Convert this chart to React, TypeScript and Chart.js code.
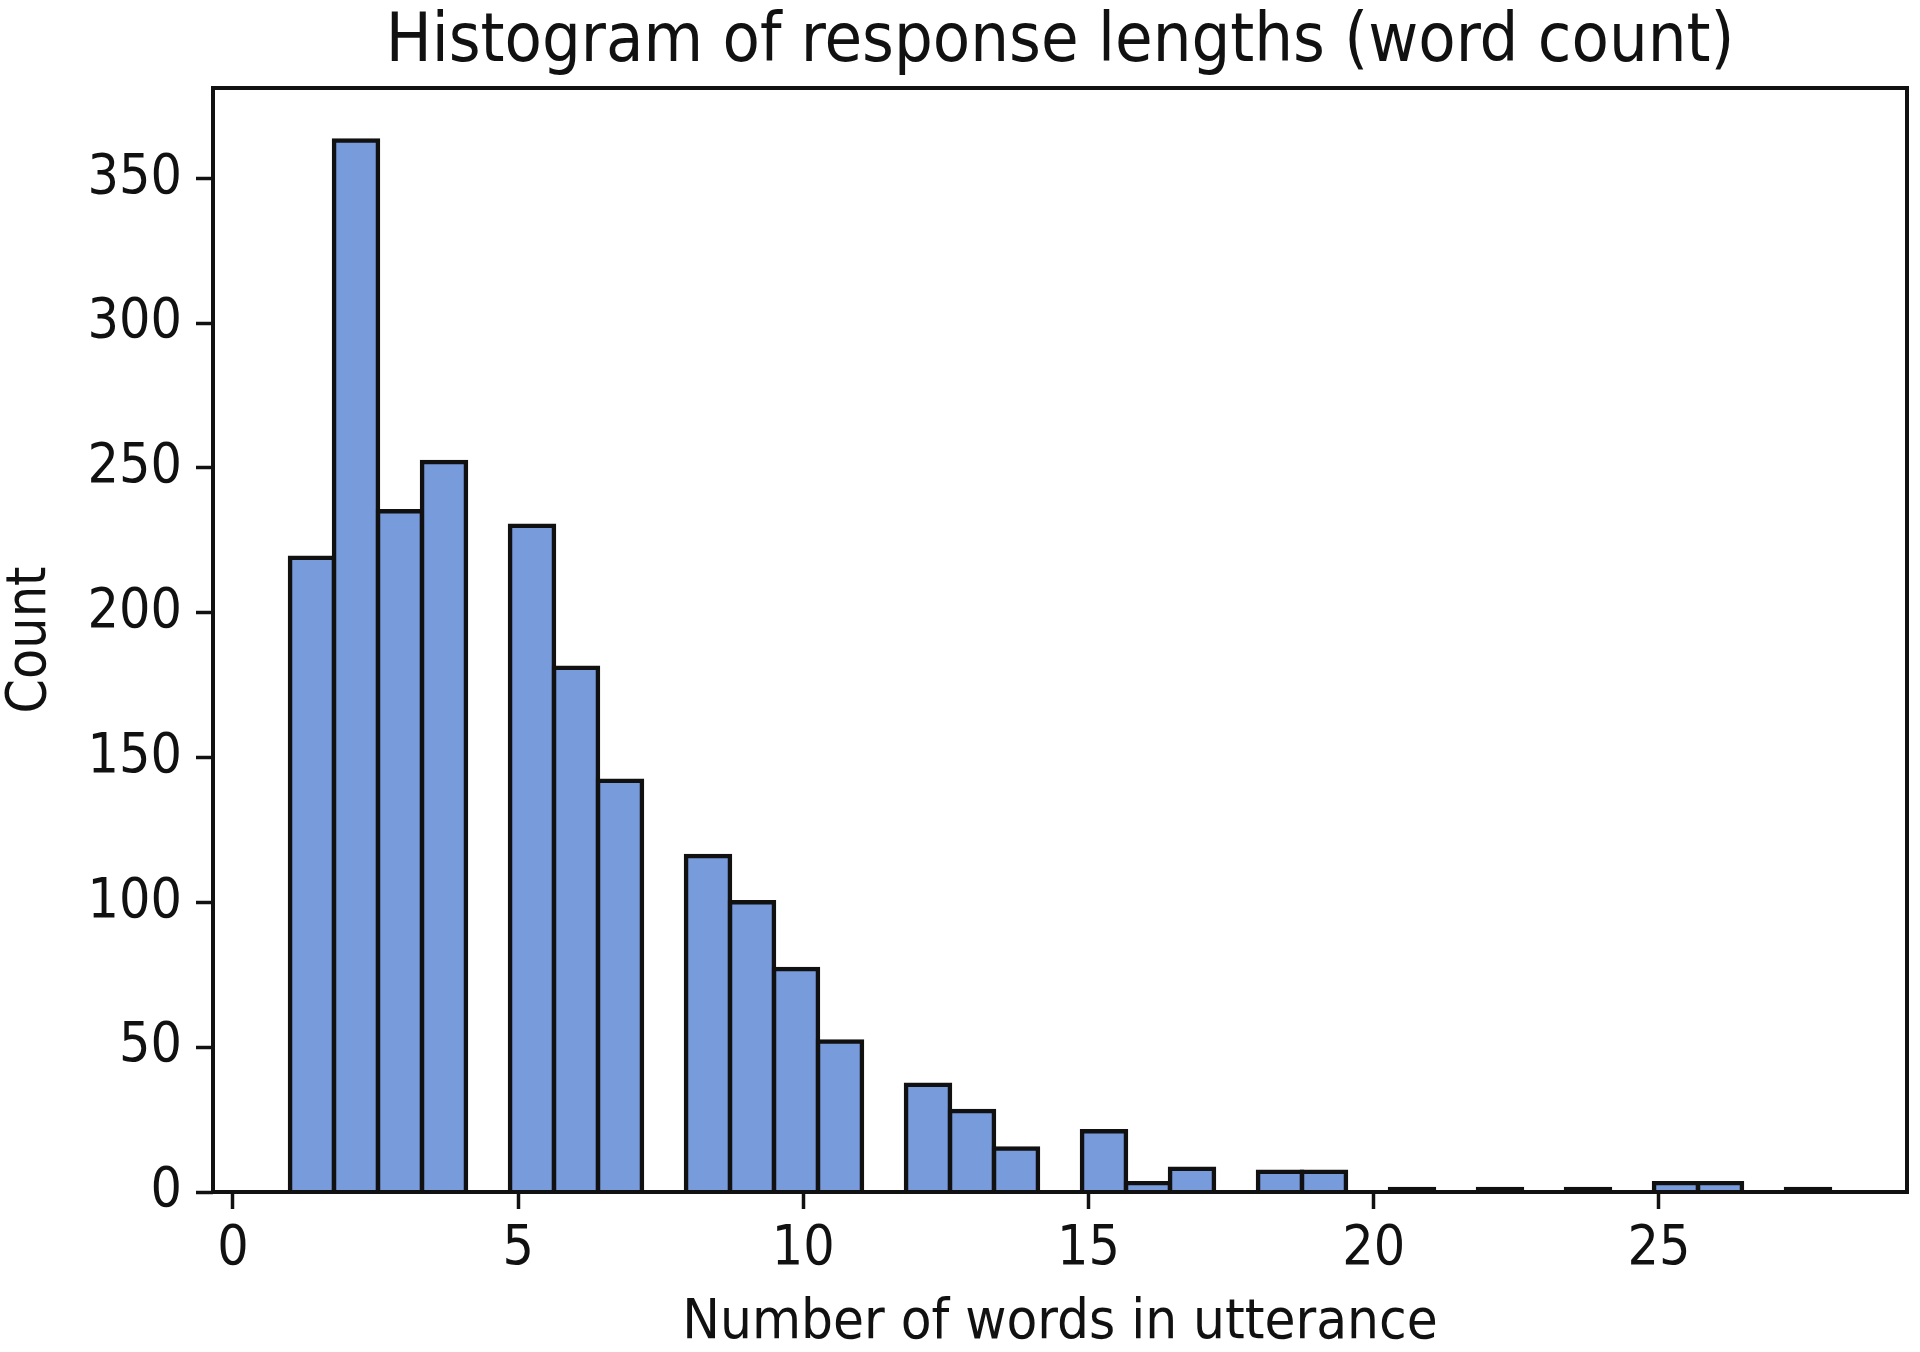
import React, { useEffect, useRef } from 'react';
import { Chart, registerables } from 'chart.js';

Chart.register(...registerables);

// Histogram bins: 35 equal bins spanning word counts 1..28
const binStart = 1;
const binEnd = 28;
const binCounts = [
  219, 363, 235, 252, 0, 230, 181, 142, 0, 116, 100, 77, 52, 0, 37, 28, 15, 0,
  21, 3, 8, 0, 7, 7, 0, 1, 0, 1, 0, 1, 0, 3, 3, 0, 1,
];
const xTickValues = [0, 5, 10, 15, 20, 25];
const yTickValues = [0, 50, 100, 150, 200, 250, 300, 350];
const titleText = 'Histogram of response lengths (word count)';
const xLabel = 'Number of words in utterance';
const yLabel = 'Count';

const FONT = "'DejaVu Sans Condensed', 'DejaVu Sans', sans-serif";
const INK = '#111111';
const BAR_FILL = 'rgb(120, 155, 220)';
const EDGE = 4.5;

const framePlugin = {
  id: 'frame',
  afterDatasetsDraw(chart: any) {
    const { ctx, chartArea } = chart;
    const { left, top, right, bottom } = chartArea;
    ctx.save();
    ctx.strokeStyle = INK;
    ctx.lineWidth = 4;
    ctx.strokeRect(left, top, right - left, bottom - top);
    ctx.restore();
  },
};

export default function App() {
  const canvasRef = useRef<HTMLCanvasElement | null>(null);

  useEffect(() => {
    if (!canvasRef.current) return;
    const binWidth = (binEnd - binStart) / binCounts.length;
    const points = binCounts
      .map((c, i) => ({ x: binStart + binWidth * (i + 0.5), y: c }))
      .filter((p) => p.y > 0);
    const span = binEnd - binStart;
    const xMin = binStart - 0.05 * span;
    const xMax = binEnd + 0.05 * span;
    const yMax = Math.max(...binCounts) * 1.05;

    const chart = new Chart(canvasRef.current, {
      type: 'bar',
      data: {
        datasets: [
          {
            data: points,
            backgroundColor: (ctx: any) => (ctx.raw && ctx.raw.y <= 1 ? INK : BAR_FILL),
            borderColor: INK,
            borderWidth: EDGE,
            borderSkipped: 'start',
            inflateAmount: EDGE / 2,
            barPercentage: 1,
            categoryPercentage: 1,
          } as any,
        ],
      },
      options: {
        animation: false,
        responsive: true,
        maintainAspectRatio: false,
        layout: { padding: { left: 0, right: 13, top: 0, bottom: 0 } },
        plugins: {
          legend: { display: false },
          tooltip: { enabled: false },
          title: {
            display: true,
            fullSize: false,
            text: titleText,
            color: INK,
            font: { family: FONT, size: 68, weight: 'normal', lineHeight: 1 },
            padding: { top: 9, bottom: 11 },
          },
        },
        scales: {
          x: {
            type: 'linear',
            min: xMin,
            max: xMax,
            offset: false,
            afterBuildTicks: (scale: any) => {
              scale.ticks = xTickValues.map((v) => ({ value: v }));
            },
            afterFit: (scale: any) => {
              scale.height = 160;
            },
            grid: {
              display: true,
              offset: false,
              drawOnChartArea: false,
              drawTicks: true,
              tickLength: 17,
              tickWidth: 3.5,
              tickColor: INK,
            },
            border: { display: false },
            ticks: {
              color: INK,
              padding: 13,
              maxRotation: 0,
              autoSkip: false,
              font: { family: FONT, size: 55, lineHeight: 1 },
            },
            title: {
              display: true,
              text: xLabel,
              color: INK,
              font: { family: FONT, size: 56, lineHeight: 1 },
              padding: { top: 0, bottom: 1 },
            },
          },
          y: {
            type: 'linear',
            min: 0,
            max: yMax,
            afterBuildTicks: (scale: any) => {
              scale.ticks = yTickValues.map((v) => ({ value: v }));
            },
            afterFit: (scale: any) => {
              scale.width = 213;
            },
            grid: {
              display: true,
              drawOnChartArea: false,
              drawTicks: true,
              tickLength: 17,
              tickWidth: 3.5,
              tickColor: INK,
            },
            border: { display: false },
            ticks: {
              color: INK,
              padding: 14,
              autoSkip: false,
              font: { family: FONT, size: 55, lineHeight: 1 },
            },
            title: {
              display: true,
              text: yLabel,
              color: INK,
              font: { family: FONT, size: 55, lineHeight: 1 },
              padding: { top: 3, bottom: 0 },
            },
          },
        },
      },
      plugins: [framePlugin],
    } as any);

    return () => {
      chart.destroy();
    };
  }, []);

  return (
    <div
      style={{
        position: 'fixed',
        left: 0,
        top: 0,
        width: 1920,
        height: 1352,
        background: '#ffffff',
      }}
    >
      <canvas ref={canvasRef} />
    </div>
  );
}
